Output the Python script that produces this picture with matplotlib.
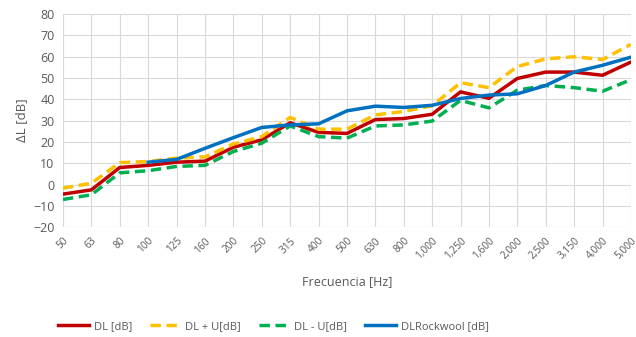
import matplotlib.pyplot as plt

freqs = ['50', '63', '80', '100', '125', '160', '200', '250', '315', '400', '500',
         '630', '800', '1,000', '1,250', '1,600', '2,000', '2,500', '3,150', '4,000', '5,000']
dl = [-4.5, -2.5, 8, 9, 10.5, 11, 17.5, 21, 29, 24.5, 24, 30.5, 31, 33, 43.5, 40.5, 49.8, 52.8, 52.8, 51.3, 57.5]
dl_plus = [-1.7, 0.6, 10.3, 10.8, 12.4, 13, 19, 22.5, 31.5, 26, 26, 32.7, 34.3, 37, 47.8, 45.5, 55.4, 59, 60, 58.7, 65.8]
dl_minus = [-7, -4.8, 5.5, 6.5, 8.5, 9, 15.5, 19.4, 27.5, 22.5, 21.8, 27.5, 28, 29.8, 39.5, 36, 44.3, 46.5, 45.5, 43.8, 49.2]
rock = [None, None, None, 10.5, 11.8, 17, 22, 26.8, 28, 28.5, 34.6, 36.8, 36.2, 37.2, 40.4, 42, 42.6, 46.5, 52.8, 56, 59.8]

plt.rcParams['font.family'] = ['Open Sans', 'DejaVu Sans']
gray = '#595959'

fig = plt.figure(figsize=(6.36, 3.37), dpi=100)
ax = fig.add_axes([0.099, 0.326, 0.893, 0.632])

x = list(range(len(freqs)))
rx = [i for i, v in zip(x, rock) if v is not None]
rv = [v for v in rock if v is not None]

ax.plot(x, dl, color='#C00000', lw=2.5, label='DL [dB]')
ax.plot(x, dl_plus, color='#FFC000', lw=2.5, ls=(0, (3, 1.6)), label='DL + U[dB]')
ax.plot(x, dl_minus, color='#00B050', lw=2.5, ls=(0, (3, 1.6)), label='DL - U[dB]')
ax.plot(rx, rv, color='#0070C0', lw=2.5, label='DLRockwool [dB]')

ax.set_xlim(0, len(freqs) - 1)
ax.set_ylim(-20, 80)
ax.set_yticks(range(-20, 81, 10))
ax.set_xticks(x)
ax.set_xticklabels(freqs, rotation=45, ha='right', rotation_mode='anchor', fontsize=7.3, color=gray)
ax.tick_params(axis='y', labelsize=9, colors=gray, length=0, pad=6)
ax.tick_params(axis='x', length=0, pad=6)
ax.grid(True, color='#D9D9D9', lw=0.8)
for s in ax.spines.values():
    s.set_visible(False)
ax.set_ylabel('ΔL [dB]', color=gray, fontsize=9.5, labelpad=4)
ax.set_xlabel('Frecuencia [Hz]', color=gray, fontsize=9, labelpad=10)

fig.legend(loc='lower center', bbox_to_anchor=(0.43, -0.015), ncol=4, frameon=False,
           fontsize=8, labelcolor=gray, handlelength=2.8, columnspacing=1.6, handletextpad=0.4)

plt.savefig('out.png')
